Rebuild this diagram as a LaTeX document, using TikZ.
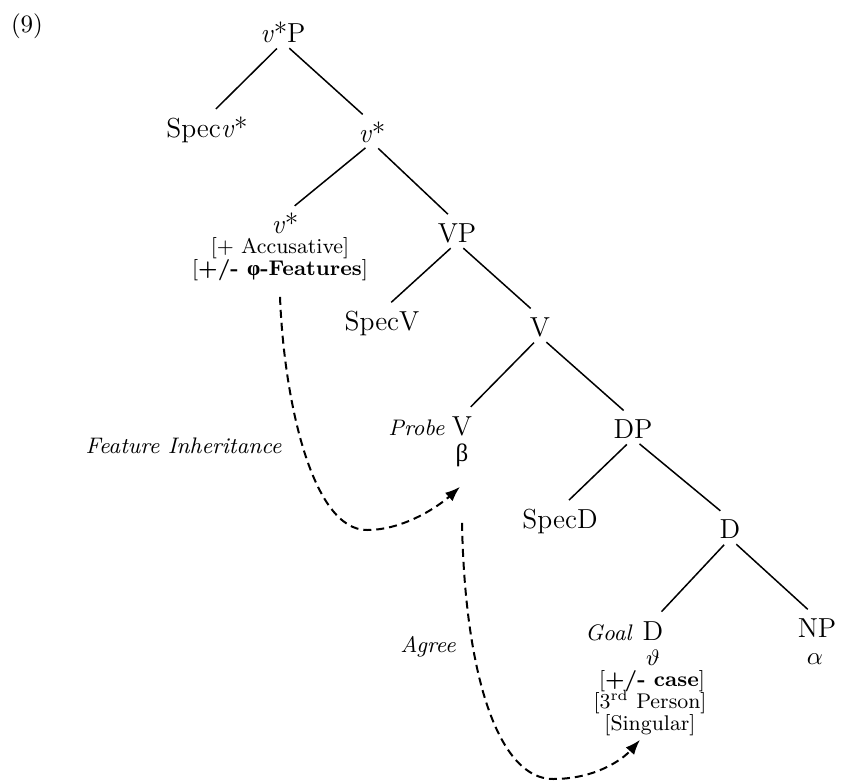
\documentclass[tikz,border=0pt]{standalone}
\usepackage{amsmath}
\usepackage{amssymb}
\usepackage{fontspec}
\usetikzlibrary{calc,arrows.meta}
\newfontfamily\greekfont{Liberation Serif}
\newcommand{\treeunit}{0.4pt}
\newcommand{\vstar}{\textit{v}*}
\tikzset{
	cat/.style={font=\fontsize{11}{13}\selectfont, anchor=base, inner sep=0pt, text height=7.5pt, text depth=0pt},
	feat/.style={font=\fontsize{8.5}{10}\selectfont, anchor=base, inner sep=0pt},
	sym/.style={font=\fontsize{10}{12}\selectfont, anchor=base, inner sep=0pt},
	role/.style={font=\fontsize{9}{11}\selectfont\itshape, inner sep=0pt},
	branch/.style={line width=0.6pt, shorten <=3.4pt, shorten >=5pt},
	movearrow/.style={line width=0.8pt, dash pattern=on 3.2pt off 2pt, -{Latex[length=6pt,width=4.5pt]}}
}

\begin{document}
\begin{tikzpicture}[x=\treeunit,y=-\treeunit]
	\useasboundingbox (0,0) rectangle (842,782);
	\node[font=\fontsize{10}{12}\selectfont, anchor=base] (exno) at (27,32) {(9)};

	\node[cat] (vsp) at (283,42) {\vstar P};
	\node[cat] (specv) at (207,137) {Spec\vstar};
	\node[cat] (vsbar) at (372,142) {\vstar};
	\node[cat] (vshead) at (285,233) {\vstar};
	\node[feat] (vsacc) at (280,253) {[+ Accusative]};
	\node[feat] (vsphi) at (280,275) {[\textbf{+/- {\greekfont φ}-Features}]};

	\node[cat] (vp) at (457,242) {VP};
	\node[cat] (specvv) at (382,330) {SpecV};
	\node[cat] (vbar) at (540,336) {V};
	\node[cat] (vhead) at (462,435) {V};
	\node[role, anchor=base east] (probe) at (445,435) {Probe};
	\node[sym] (vbeta) at (462,461) {{\greekfont β}};

	\node[cat] (dp) at (633,438) {DP};
	\node[cat] (specd) at (560,528) {SpecD};
	\node[cat] (dbar) at (730,538) {D};
	\node[cat] (dhead) at (653,640) {D};
	\node[role, anchor=base east] (goal) at (632,640) {Goal};
	\node[sym, font=\fontsize{9}{11}\selectfont] (dtheta) at (653,665) {$\vartheta$};
	\node[feat] (dcase) at (652,686) {[\textbf{+/- case}]};
	\node[feat] (dpers) at (650,708) {[3\textsuperscript{rd} Person]};
	\node[feat] (dsg) at (650,730) {[Singular]};

	\node[cat] (np) at (817,637) {NP};
	\node[sym] (nalpha) at (815,664) {$\alpha$};

	\node[role, anchor=base east] (fitext) at (282,453) {Feature Inheritance};
	\node[role, anchor=base] (agtext) at (428,652) {Agree};

	\coordinate (fibot) at (367,530);
	\coordinate (agbot) at (553,779);

	\draw[branch] (vsp.south) -- (specv.north);
	\draw[branch] (vsp.south) -- (vsbar.north);
	\draw[branch] (vsbar.south) -- (vshead.north);
	\draw[branch] (vsbar.south) -- (vp.north);
	\draw[branch] (vp.south) -- (specvv.north);
	\draw[branch] (vp.south) -- (vbar.north);
	\draw[branch] (vbar.south) -- (vhead.north);
	\draw[branch] (vbar.south) -- (dp.north);
	\draw[branch] (dp.south) -- (specd.north);
	\draw[branch] (dp.south) -- (dbar.north);
	\draw[branch] (dbar.south) -- (dhead.north);
	\draw[branch] (dbar.south) -- (np.north);

	\draw[movearrow] ($(vsphi.south)+(0,16)$) .. controls (284,400) and (312,530) .. (fibot)
		.. controls (405,530) and (440,505) .. ($(vbeta.south)+(-2,20)$);
	\draw[movearrow] ($(vbeta.south)+(0,56)$) .. controls (465,680) and (500,779) .. (agbot)
		.. controls (595,779) and (622,760) .. ($(dsg.south)+(-10,4)$);
\end{tikzpicture}
\end{document}
